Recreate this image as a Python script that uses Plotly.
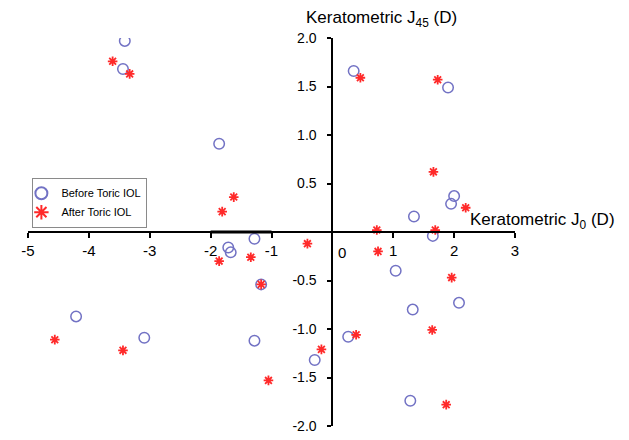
import plotly.graph_objects as go

# Before Toric IOL (J0, J45)
before_j0 = [-3.41, -3.44, -1.86, 0.35, 1.90, 2.00, 1.95, 1.34, -1.71, -1.67, -1.28,
             -1.17, -4.21, -3.09, -1.28, -0.29, 1.65, 1.04, 2.08, 1.32, 0.26, 1.28]
before_j45 = [1.97, 1.68, 0.91, 1.66, 1.49, 0.37, 0.29, 0.16, -0.16, -0.21, -0.07,
              -0.54, -0.87, -1.09, -1.12, -1.32, -0.04, -0.40, -0.73, -0.80, -1.08, -1.74]

# After Toric IOL (J0, J45)
after_j0 = [-3.61, -3.33, -1.62, -1.81, 0.46, 1.73, 1.66, 2.19, -0.41, -1.86, -1.34, -1.17,
            -4.56, -3.44, -1.05, 0.73, 1.69, 0.75, 1.96, 1.64, 0.39, -0.18, 1.87]
after_j45 = [1.76, 1.63, 0.36, 0.21, 1.59, 1.57, 0.62, 0.25, -0.12, -0.30, -0.26, -0.54,
             -1.11, -1.22, -1.53, 0.02, 0.02, -0.20, -0.47, -1.01, -1.06, -1.21, -1.78]

x_ticks = [-5, -4, -3, -2, -1, 1, 2, 3]
x_ticktext = ["-5", "-4", "-3", "-2", "-1", "1", "2", "3"]
y_ticks = [-2, -1.5, -1, -0.5, 0.5, 1, 1.5, 2]
y_ticktext = ["-2.0", "-1.5", "-1.0", "-0.5", "0.5", "1.0", "1.5", "2.0"]

FONT = "Liberation Sans, Arial, sans-serif"

fig = go.Figure()
fig.add_trace(go.Scatter(
    x=before_j0, y=before_j45, mode="markers", name="Before Toric IOL",
    marker=dict(symbol="circle-open", size=10.5, color="#7272c4", line=dict(width=1.5, color="#7272c4")),
))
fig.add_trace(go.Scatter(
    x=after_j0, y=after_j45, mode="markers", name="After Toric IOL",
    marker=dict(symbol="asterisk-open", size=8, color="#ff2a2a", line=dict(width=1.8, color="#ff2a2a")),
))

# slight thickening of the axis between -2 and -1 as in the original
fig.add_shape(type="line", xref="x", yref="y", x0=-2, x1=-1, y0=0, y1=0,
              line=dict(color="black", width=3), layer="above")

fig.add_annotation(x=0, y=0, xref="x", yref="y", text="0", showarrow=False,
                   xanchor="center", yanchor="top", xshift=10, yshift=-10,
                   font=dict(family=FONT, size=15, color="black"))
fig.add_annotation(x=0, y=1, xref="x", yref="paper", text="Keratometric J<sub>45</sub> (D)",
                   showarrow=False, xanchor="left", yanchor="bottom", xshift=-28, yshift=6,
                   font=dict(family=FONT, size=17, color="black"))
fig.add_annotation(x=3, y=0, xref="x", yref="y", text="Keratometric J<sub>0</sub> (D)",
                   showarrow=False, xanchor="left", yanchor="bottom", xshift=-47, yshift=-2,
                   font=dict(family=FONT, size=17, color="black"))

fig.update_layout(
    width=629, height=440,
    margin=dict(l=19.7, r=122, t=29.6, b=22.4),
    paper_bgcolor="white", plot_bgcolor="white",
    font=dict(family=FONT, color="black"),
    showlegend=True,
    legend=dict(x=0.009, y=0.64, xanchor="left", yanchor="top",
                bordercolor="#8a8a8a", borderwidth=1, bgcolor="white",
                font=dict(family=FONT, size=11), indentation=-12,
                tracegroupgap=0, itemsizing="constant"),
    xaxis=dict(range=[-5, 3], anchor="free", position=0.5, showgrid=False, zeroline=False,
               showline=True, linecolor="black", linewidth=2, ticks="outside", ticklen=5,
               tickwidth=2, tickcolor="black", tickvals=x_ticks, ticktext=x_ticktext,
               tickfont=dict(family=FONT, size=15), fixedrange=True),
    yaxis=dict(range=[-2, 2], anchor="free", position=0.625, showgrid=False, zeroline=False,
               showline=True, linecolor="black", linewidth=2, ticks="outside", ticklen=4,
               tickwidth=2, tickcolor="black", tickvals=y_ticks, ticktext=y_ticktext,
               tickfont=dict(family=FONT, size=14), ticklabelstandoff=8, fixedrange=True),
)

fig.write_html("out.html")
